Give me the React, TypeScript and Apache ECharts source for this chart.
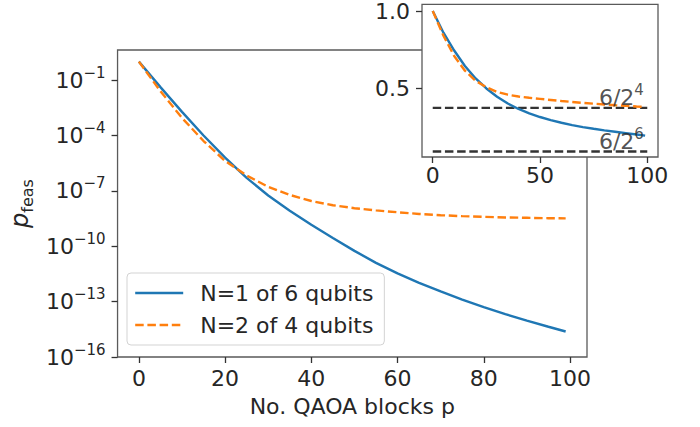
import React, { useEffect, useRef } from 'react';
import * as echarts from 'echarts';

// ---- data ----
const pBlocks = [0, 5, 10, 15, 20, 25, 30, 35, 40, 45, 50, 55, 60, 65, 70, 75, 80, 85, 90, 95, 99];
// main panel: log10 of p_feas
const n1Log10 = [0, -1.38, -2.72, -4.0, -5.2, -6.3, -7.25, -8.08, -8.84, -9.55, -10.25, -10.9, -11.47, -11.98, -12.45, -12.89, -13.3, -13.68, -14.03, -14.36, -14.62];
const n2Log10 = [0, -1.6, -3.05, -4.3, -5.38, -6.17, -6.78, -7.22, -7.55, -7.78, -7.94, -8.06, -8.16, -8.25, -8.32, -8.37, -8.41, -8.44, -8.46, -8.48, -8.49];
// inset panel: linear values
const insetN1 = [1.0, 0.86, 0.745, 0.645, 0.565, 0.5, 0.447, 0.403, 0.368, 0.34, 0.316, 0.296, 0.279, 0.264, 0.251, 0.24, 0.23, 0.221, 0.212, 0.203, 0.196];
const insetN2 = [1.0, 0.84, 0.71, 0.615, 0.55, 0.508, 0.478, 0.46, 0.448, 0.44, 0.433, 0.426, 0.419, 0.413, 0.407, 0.402, 0.397, 0.392, 0.388, 0.384, 0.381];
const refLineX = [0, 100];
const refLineValues = [6 / 16, 6 / 64];
const refLineBase = ['6/2', '6/2'];
const refLineExp = ['4', '6'];
const refLabelX = 77;

const seriesNames = ['N=1 of 6 qubits', 'N=2 of 4 qubits'];
const xTicks = [0, 20, 40, 60, 80, 100];
const yTickExps = [-16, -13, -10, -7, -4, -1];
const insetXTicks = [0, 50, 100];
const insetYTicks = [0.5, 1.0];

const FONT = 'DejaVu Sans';
const TXT = '#262626';
const SPINE = '#5a5a5a';
const BLUE = '#1f77b4';
const ORANGE = '#ff7f0e';
const LW = 2.4;
const DASH = [8.5, 3.7];

const supRich = {
  b: { fontSize: 22, fontFamily: FONT, color: TXT, lineHeight: 30 },
  s: { fontSize: 15, fontFamily: FONT, color: TXT, verticalAlign: 'top' },
};

export default function App() {
  const ref = useRef<HTMLDivElement>(null);
  useEffect(() => {
    if (!ref.current) return;
    const chart = echarts.init(ref.current, null, { renderer: 'svg' });
    const toPow = (e: number) => Math.pow(10, e);
    const mainN1 = pBlocks.map((p, i) => [p, toPow(n1Log10[i])]);
    const mainN2 = pBlocks.map((p, i) => [p, toPow(n2Log10[i])]);
    const insN1 = pBlocks.map((p, i) => [p, insetN1[i]]);
    const insN2 = pBlocks.map((p, i) => [p, insetN2[i]]);

    const axisTick = { show: true, length: 6, lineStyle: { color: '#333', width: 1.3 } };
    const noLine = { show: false, onZero: false };

    const option: any = {
      animation: false,
      backgroundColor: '#ffffff',
      textStyle: { fontFamily: FONT, color: TXT },
      grid: [
        { left: 114, top: 50, width: 473, height: 307, show: true, borderColor: SPINE, borderWidth: 1.3, backgroundColor: '#fff', z: 0 },
        { left: 422, top: 4, width: 236, height: 153, show: true, borderColor: SPINE, borderWidth: 1.3, backgroundColor: '#fff', z: 3 },
      ],
      xAxis: [
        {
          type: 'value', gridIndex: 0, min: -4.95, max: 103.95,
          axisLine: noLine,
          axisTick: { ...axisTick, customValues: xTicks },
          axisLabel: { customValues: xTicks, fontSize: 22, color: TXT, fontFamily: FONT, margin: 10 },
          splitLine: { show: false },
          name: 'No. QAOA blocks p', nameLocation: 'middle', nameGap: 38,
          nameTextStyle: { fontSize: 22, color: TXT, fontFamily: FONT },
        },
        {
          type: 'value', gridIndex: 1, min: -5, max: 105,
          axisLine: noLine,
          axisTick: { ...axisTick, customValues: insetXTicks },
          axisLabel: { customValues: insetXTicks, fontSize: 22, color: TXT, fontFamily: FONT, margin: 7 },
          splitLine: { show: false },
          z: 4,
        },
      ],
      yAxis: [
        {
          type: 'log', logBase: 10, gridIndex: 0, min: 1e-16, max: Math.pow(10, 0.63),
          axisLine: noLine,
          axisTick: { ...axisTick, customValues: yTickExps.map(toPow) },
          axisLabel: {
            customValues: yTickExps.map(toPow),
            margin: 12,
            formatter: (v: number) => `{b|10}{s|−${-Math.round(Math.log10(v))}}`,
            rich: supRich,
          },
          splitLine: { show: false },
          minorTick: { show: false },
          name: '{p|p}{s|feas}', nameLocation: 'middle', nameGap: 72, nameRotate: 90,
          nameTextStyle: {
            rich: {
              p: { fontSize: 24, fontFamily: FONT, fontStyle: 'italic', color: TXT, lineHeight: 30 },
              s: { fontSize: 16, fontFamily: FONT, color: TXT, verticalAlign: 'bottom' },
            },
          },
        },
        {
          type: 'value', gridIndex: 1, min: 0.058, max: 1.043,
          axisLine: noLine,
          axisTick: { ...axisTick, customValues: insetYTicks },
          axisLabel: {
            customValues: insetYTicks, fontSize: 22, color: TXT, fontFamily: FONT, margin: 12,
            formatter: (v: number) => v.toFixed(1),
          },
          splitLine: { show: false },
          z: 4,
        },
      ],
      legend: {
        data: seriesNames,
        orient: 'vertical', left: 127, top: 273,
        padding: [9, 11, 9, 7], itemWidth: 48, itemHeight: 14, itemGap: 10,
        borderColor: '#d3d3d3', borderWidth: 1, borderRadius: 4, backgroundColor: 'rgba(255,255,255,0.8)',
        itemStyle: { opacity: 0 },
        lineStyle: { width: LW },
        textStyle: { fontSize: 22, lineHeight: 22, color: TXT, fontFamily: FONT, padding: [0, 0, 0, 12] },
      },
      series: [
        {
          name: seriesNames[0], type: 'line', xAxisIndex: 0, yAxisIndex: 0, data: mainN1,
          symbol: 'none', smooth: false, lineStyle: { color: BLUE, width: LW }, itemStyle: { color: BLUE },
        },
        {
          name: seriesNames[1], type: 'line', xAxisIndex: 0, yAxisIndex: 0, data: mainN2,
          symbol: 'none', smooth: false, lineStyle: { color: ORANGE, width: LW, type: DASH }, itemStyle: { color: ORANGE },
        },
        ...refLineValues.map((v) => ({
          type: 'line', xAxisIndex: 1, yAxisIndex: 1, data: refLineX.map((x) => [x, v]),
          symbol: 'none', z: 5, silent: true,
          lineStyle: { color: '#333', width: LW, type: DASH },
        })),
        {
          type: 'line', xAxisIndex: 1, yAxisIndex: 1, data: insN1, z: 6,
          symbol: 'none', smooth: false, lineStyle: { color: BLUE, width: LW },
        },
        {
          type: 'line', xAxisIndex: 1, yAxisIndex: 1, data: insN2, z: 7,
          symbol: 'none', smooth: false, lineStyle: { color: ORANGE, width: LW, type: DASH },
        },
        {
          type: 'scatter', xAxisIndex: 1, yAxisIndex: 1, z: 8, silent: true,
          symbolSize: 2, itemStyle: { color: 'rgba(0,0,0,0)' },
          label: { show: true },
          data: refLineValues.map((v, i) => ({
            value: [refLabelX, v],
            label: {
              show: true, position: 'right', distance: 0, offset: [0, -10],
              formatter: `{b|${refLineBase[i]}}{s|${refLineExp[i]}}`,
              rich: supRich,
            },
          })),
        },
      ],
    };
    chart.setOption(option);
    return () => chart.dispose();
  }, []);
  return <div ref={ref} style={{ position: 'fixed', left: 0, top: 0, width: 700, height: 427 }} />;
}
